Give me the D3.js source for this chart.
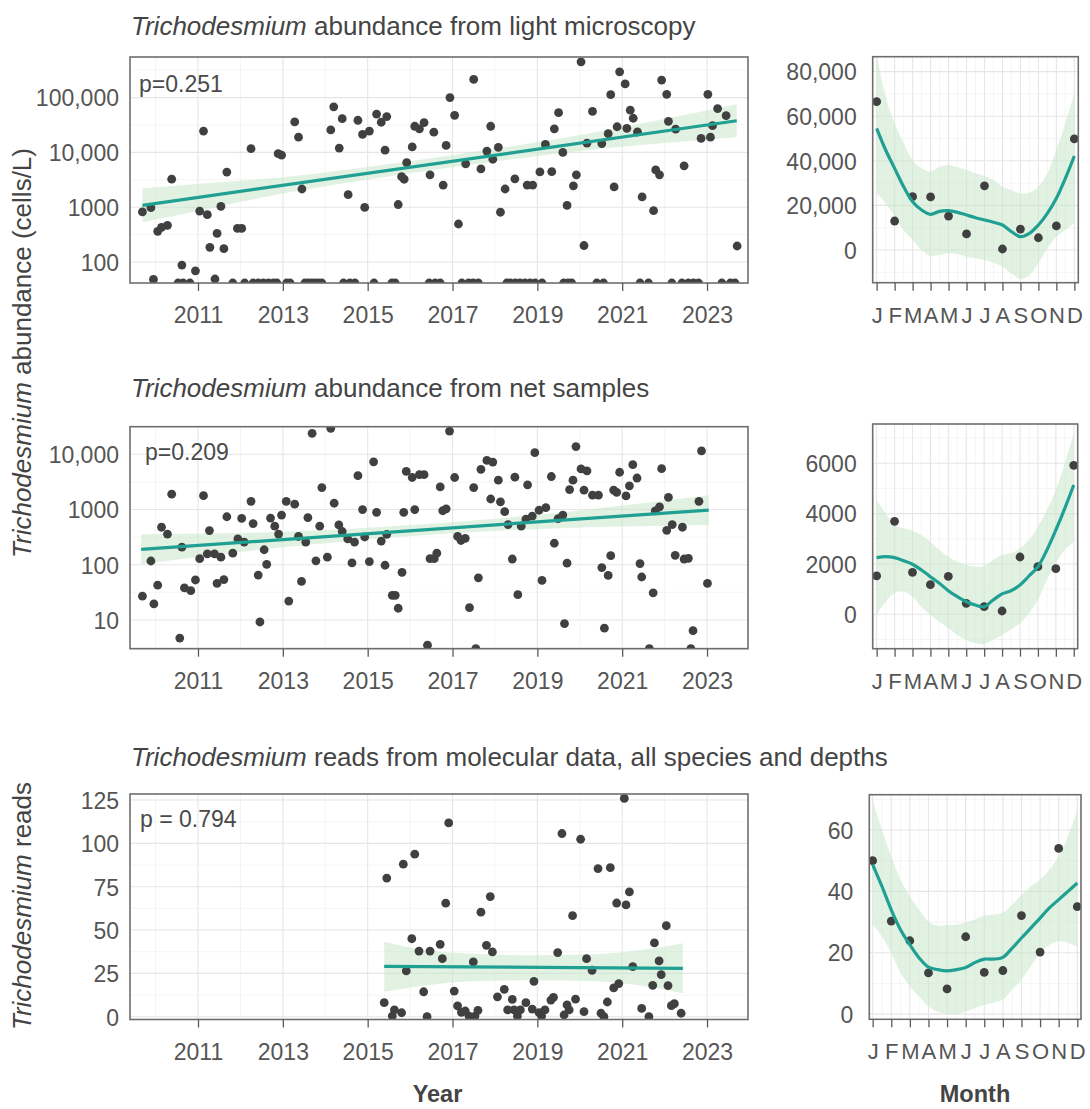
<!DOCTYPE html>
<html><head><meta charset="utf-8">
<script src="https://cdn.jsdelivr.net/npm/d3@7"></script>
<style>body{margin:0;background:#fff}svg{display:block}</style>
</head><body><svg id="c" width="1090" height="1109"></svg>
<script>
// ---------------- DATA ----------------
// Light microscopy abundance (cells/L) by decimal year; 0 = below detection (drawn on axis floor)
const lmPoints = [
[2009.69,820],[2009.89,980],[2009.95,48],[2010.05,363],[2010.14,430],[2010.28,468],[2010.38,3250],[2010.62,88],[2010.53,0],[2010.65,0],[2010.81,0],[2010.94,69],
[2011.13,24500],[2011.04,850],[2011.22,730],[2011.28,185],[2011.40,49],[2011.45,333],[2011.54,1040],[2011.61,175],[2011.68,4370],[2011.82,0],[2011.93,410],[2012.03,410],
[2012.10,0],[2012.25,11700],[2012.30,0],[2012.42,0],[2012.54,0],[2012.66,0],[2012.78,0],[2012.86,0],[2012.89,9500],[2012.97,8900],[2013.09,0],[2013.17,0],
[2013.28,36000],[2013.37,19000],[2013.45,2150],[2013.52,0],[2013.60,0],[2013.68,0],[2013.76,0],[2013.84,0],[2013.92,0],[2014.13,25700],[2014.20,68000],[2014.33,12000],
[2014.40,41200],[2014.54,1690],[2014.43,0],[2014.58,0],[2014.70,0],[2014.77,38600],[2014.88,21300],[2014.93,990],[2015.04,24500],[2015.15,0],[2015.21,50000],[2015.32,35500],
[2015.45,45000],[2015.41,11000],[2015.57,0],[2015.65,0],[2015.72,1120],[2015.80,3600],[2015.86,3240],[2015.92,6500],[2016.05,12600],[2016.11,30000],[2016.22,27000],[2016.33,35000],
[2016.47,3900],[2016.56,23400],[2016.45,0],[2016.59,0],[2016.71,0],
[2016.78,2530],[2016.85,13400],[2016.94,100000],[2017.05,47500],[2017.14,494],[2017.31,6200],[2017.50,215000],[2017.67,5000],[2017.81,10600],[2017.90,30000],[2017.95,7500],
[2018.08,12400],[2018.13,810],[2018.24,2150],[2018.47,3300],[2018.76,2530],[2018.89,2530],[2019.06,4400],[2019.19,14000],[2019.34,4450],[2019.40,27000],[2019.50,53000],
[2019.60,10000],[2019.70,1080],[2019.85,2460],[2019.92,3900],[2020.03,450000],[2020.10,200],[2020.17,14800],[2020.30,56000],[2020.52,14500],[2020.67,22000],[2020.73,113000],
[2020.81,2350],[2020.88,29400],[2020.94,296000],[2021.07,178000],[2021.11,27500],[2021.19,59000],[2021.26,42000],[2021.36,23600],[2021.47,1540],[2021.74,865],[2021.79,4800],
[2021.88,3900],[2021.93,209000],[2022.05,115000],[2022.09,37000],[2022.26,26600],[2022.46,5700],[2022.86,18000],[2023.08,19000],[2023.02,115000],[2023.13,30700],[2023.25,63000],
[2023.45,47000],[2023.71,196],
[2017.22,0],[2017.38,0],[2017.49,0],[2017.61,0],[2018.28,0],[2018.36,0],[2018.48,0],[2018.59,0],[2018.71,0],[2018.83,0],[2018.95,0],[2019.11,0],[2019.62,0],[2019.73,0],
[2019.81,0],[2020.40,0],[2020.56,0],[2021.42,0],[2021.62,0],[2022.17,0],[2022.41,0],[2022.56,0],[2022.68,0],[2022.80,0],[2023.35,0],[2023.55,0],[2023.66,0]
];
const lmTrend = [[2009.69,1084],[2023.70,37800]];
// [year, lower, upper]
const lmBand = [[2009.69,531,2213],[2011.5,1033,2844],[2013.0,1774,3540],[2014.5,2786,4842],[2016.7,4977,8260],[2018.5,7674,13335],[2020.5,11614,24266],[2022.0,14791,40738],[2023.7,18967,75509]];
const lmP = "p=0.251";
const lmTicks = [100,1000,10000,100000];
const lmTickLabels = ["100","1000","10,000","100,000"];

// Net samples abundance
const netPoints = [
[2009.69,27],[2009.89,117],[2009.96,19.5],[2010.05,42.6],[2010.14,478],[2010.28,360],[2010.38,1900],[2010.57,4.7],[2010.62,208],[2010.68,38],[2010.83,34],[2010.94,53],
[2011.04,129],[2011.13,1780],[2011.22,158],[2011.39,158],[2011.54,137],[2011.27,415],[2011.45,46],[2011.61,54],[2011.68,740],[2011.82,162],[2011.94,294],[2012.09,257],
[2012.03,690],[2012.25,1410],[2012.30,556],[2012.42,65],[2012.46,9.2],[2012.56,187],[2012.62,102],[2012.71,700],[2012.81,500],[2012.90,360],[2012.97,795],[2013.08,1410],
[2013.14,22],[2013.28,1250],[2013.37,325],[2013.44,50],[2013.54,257],[2013.59,715],[2013.69,24000],[2013.78,118],[2013.87,500],[2013.92,2500],[2014.05,137],[2014.13,29500],
[2014.21,1300],[2014.32,525],[2014.40,400],[2014.53,294],[2014.69,257],[2014.63,108],[2014.77,4100],[2014.88,1000],[2014.93,318],[2015.04,114],[2015.14,7300],[2015.21,890],
[2015.32,268],[2015.45,355],[2015.41,98],[2015.58,28],[2015.65,28],[2015.72,16.3],[2015.81,73],[2015.85,890],[2015.91,4900],[2016.05,3800],[2016.22,4270],[2016.33,4270],
[2016.11,1000],[2016.41,3.5],[2016.47,129],[2016.57,129],[2016.63,162],[2016.71,2570],[2016.77,950],[2016.85,1030],[2016.93,26300],[2017.05,3800],[2017.12,325],[2017.20,275],
[2017.30,300],[2017.40,16.7],[2017.50,2500],[2017.55,3],[2017.61,58],[2017.67,5350],[2017.81,7750],[2017.95,7240],[2017.90,1550],[2018.08,3400],[2018.13,1380],[2018.23,915],
[2018.31,535],[2018.41,127],[2018.47,3850],[2018.54,28.7],[2018.62,500],[2018.73,670],[2018.88,760],[2018.77,2800],[2018.94,10700],[2019.04,970],[2019.20,1080],[2019.11,52],
[2019.33,3960],[2019.40,245],[2019.49,685],[2019.60,795],[2019.64,8.6],[2019.70,107],[2019.76,2300],[2019.84,3400],[2019.91,13800],[2020.03,5430],[2020.17,5000],[2020.10,2240],
[2020.30,1820],[2020.44,1820],[2020.52,89],[2020.58,7.1],[2020.67,64],[2020.73,146],[2020.80,2240],[2020.87,2040],[2020.94,4730],[2021.09,1760],[2021.17,2690],[2021.25,6500],
[2021.35,3720],[2021.42,105],[2021.46,60],[2021.64,3],[2021.73,31],[2021.78,944],[2021.88,1120],[2021.93,5500],[2022.05,420],[2022.09,1660],[2022.18,535],[2022.25,148],
[2022.42,478],[2022.46,127],[2022.56,131],[2022.62,3],[2022.67,6.4],[2022.81,1410],[2022.87,11500],[2023.01,46]
];
const netTrend = [[2009.66,190],[2023.04,977]];
const netBand = [[2009.66,102,355],[2011.5,154,370],[2013.0,207,395],[2014.5,267,444],[2016.3,341,541],[2018.0,410,681],[2019.5,460,877],[2021.0,492,1180],[2023.04,525,1820]];
const netP = "p=0.209";
const netTicks = [10,100,1000,10000];
const netTickLabels = ["10","100","1000","10,000"];

// Molecular reads
const molPoints = [
[2015.39,8.1],[2015.45,80],[2015.58,0.4],[2015.63,3.9],[2015.80,2.3],[2015.84,88],[2015.91,26.4],[2016.04,45],[2016.11,93.8],[2016.21,37.9],[2016.47,37.9],[2016.32,14.4],
[2016.40,0],[2016.71,41.8],[2016.76,33.5],[2016.84,65.5],[2016.91,111.8],[2017.04,14.8],[2017.12,6.2],[2017.21,2.5],[2017.30,3.3],[2017.39,0.4],[2017.53,0.4],[2017.49,31.6],
[2017.60,3.7],[2017.67,60.3],[2017.80,41.2],[2017.89,69.3],[2017.94,37.4],[2018.06,11.5],[2018.22,15.8],[2018.30,3.9],[2018.41,10],[2018.45,3.9],[2018.53,0.4],[2018.60,3.9],
[2018.73,8.1],[2018.88,4.4],[2018.92,20.4],[2019.04,2.3],[2019.10,0.4],[2019.18,3.9],[2019.32,9.6],[2019.38,11.2],[2019.48,37],[2019.58,105.7],[2019.63,1],[2019.70,6.8],
[2019.75,3.9],[2019.83,58.3],[2019.90,10.2],[2020.02,102.4],[2020.10,2.9],[2020.16,33.5],[2020.29,26.8],[2020.43,85.5],[2020.50,2],[2020.57,0],[2020.65,8.5],[2020.72,86],
[2020.80,16.6],[2020.92,19.1],[2020.87,65.6],[2021.05,126],[2021.09,64.5],[2021.17,72],[2021.25,28.9],[2021.46,4.8],[2021.63,0],[2021.72,18.1],[2021.76,42.6],[2021.87,32.2],
[2021.92,24.3],[2022.04,52.5],[2022.08,17.9],[2022.16,6.4],[2022.23,7.5],[2022.39,2]
];
const molTrend = [[2015.39,29.1],[2022.43,27.9]];
const molBand = [[2015.39,14.4,43.3],[2016.5,18.5,38.0],[2017.5,20.5,36.3],[2018.9,21.0,35.5],[2020.3,20.5,36.0],[2021.3,18.5,38.0],[2022.43,13.5,42.4]];
const molP = "p = 0.794";
const molTicks = [0,25,50,75,100,125];

const yearTicks = [2011,2013,2015,2017,2019,2021,2023];
const yearMinor = [2010,2012,2014,2016,2018,2020,2022];

// Monthly panels
const monthLabels = ["J","F","M","A","M","J","J","A","S","O","N","D"];
const months = [1,2,3,4,5,6,7,8,9,10,11,12];
const halfMonths = [1.5,2.5,3.5,4.5,5.5,6.5,7.5,8.5,9.5,10.5,11.5];
const smoothX = [1,1.5,2,2.5,3,3.5,4,4.5,5,5.5,6,6.5,7,7.5,8,8.5,9,9.5,10,10.5,11,11.5,12];

const lmMonthly = [66500,13000,23900,23800,15200,7200,28800,450,9400,5500,10800,49800];
const lmSmooth = [54560,44840,36620,28400,21670,17940,16000,17340,17640,16890,15690,14500,13450,12410,11210,8220,5980,7470,11210,16440,23170,32130,42150];
const lmSmoothLo = [25410,20920,14950,8970,4480,0,-2690,-2240,-1490,-1790,-2990,-3740,-4480,-5680,-7470,-10460,-13150,-11210,-5980,750,5980,8970,11960];
const lmSmoothHi = [88200,68750,56800,47830,40360,36620,35130,37370,38110,37070,35870,34380,33180,31390,28400,26900,25410,25710,28400,34380,44840,56800,70250];
const lmMonthTicks = [0,20000,40000,60000,80000];
const lmMonthTickLabels = ["0","20,000","40,000","60,000","80,000"];
const lmMonthMinor = [-10000,10000,30000,50000,70000];

const netMonthly = [1523,3696,1669,1176,1510,437,302,131,2277,1892,1812,5921];
const netSmooth = [2250,2290,2250,2130,1987,1760,1495,1232,938,700,501,370,302,568,809,938,1165,1522,1892,2555,3350,4212,5138];
const netSmoothLo = [-28,501,835,898,700,302,-28,-294,-556,-823,-1021,-1152,-1180,-1021,-823,-596,-358,40,568,1363,2027,2555,2885];
const netSmoothHi = [4542,4013,3549,3418,3322,3151,2885,2555,2289,2090,1959,1892,1919,2158,2357,2424,2623,2953,3481,4145,4940,6001,7193];
const netMonthTicks = [0,2000,4000,6000];
const netMonthMinor = [-1000,1000,3000,5000,7000];

const molMonthly = [50.0,30.3,23.9,13.4,8.2,25.2,13.6,14.2,32.1,20.2,54.0,35.0];
const molSmooth = [48.7,41.6,34.0,27.5,22.6,18.3,15.3,14.5,14.1,14.5,15.2,16.8,17.9,17.9,18.5,21.5,24.8,28.0,31.3,34.6,37.3,40.0,42.7];
const molSmoothLo = [29.1,25.3,19.9,13.4,9.0,5.7,2.5,0.8,0.1,0.1,0.8,2.0,3.0,3.8,4.7,7.9,11.2,15.5,19.9,22.6,23.7,23.2,22.0];
const molSmoothHi = [69.9,60.1,51.4,43.8,38.4,34.0,30.2,28.8,29.1,29.1,29.9,30.8,32.1,32.4,33.1,35.6,38.9,41.6,43.8,47.1,51.4,57.9,66.6];
const molMonthTicks = [0,20,40,60];
const molMonthMinor = [10,30,50,70];

// ---------------- DRAWING ----------------
const FONT = '"Liberation Sans", Arial, Helvetica, sans-serif';
const svg = d3.select('#c').attr('font-family', FONT);
const TEAL = '#1fa092', BAND = '#cbe8cb', DOT = '#404040', TICKTXT = '#555';
let clipN = 0;

function panel(o) {
  const g = svg.append('g');
  const id = 'clip' + (++clipN);
  svg.append('clipPath').attr('id', id).append('rect')
    .attr('x', o.x0).attr('y', o.y0).attr('width', o.x1 - o.x0).attr('height', o.y1 - o.y0);
  const grid = g.append('g');
  const vline = (v, w, c) => grid.append('line').attr('x1', o.x(v)).attr('x2', o.x(v)).attr('y1', o.y0).attr('y2', o.y1).attr('stroke', c).attr('stroke-width', w);
  const hline = (y, w, c) => grid.append('line').attr('x1', o.x0).attr('x2', o.x1).attr('y1', y).attr('y2', y).attr('stroke', c).attr('stroke-width', w);
  o.xMinor.forEach(v => vline(v, 0.7, '#f0f0f0'));
  o.yMinor.forEach(v => { const y = o.y(v); if (y >= o.y0 && y <= o.y1) hline(y, 0.7, '#f0f0f0'); });
  o.xTicks.forEach(v => vline(v, 1.1, '#e6e6e6'));
  o.yTicks.forEach(v => hline(o.y(v), 1.1, '#e6e6e6'));
  const content = g.append('g').attr('clip-path', `url(#${id})`);
  const frame = g.append('g');
  frame.append('rect').attr('x', o.x0).attr('y', o.y0).attr('width', o.x1 - o.x0).attr('height', o.y1 - o.y0)
    .attr('fill', 'none').attr('stroke', '#6e6e6e').attr('stroke-width', 1.6);
  const ax = frame.append('g').attr('transform', `translate(0,${o.y1})`)
    .call(d3.axisBottom(o.x).tickValues(o.xTicks).tickFormat(o.xFmt).tickSize(8));
  ax.select('.domain').remove();
  ax.selectAll('line').attr('stroke', '#5a5a5a').attr('stroke-width', 1.3);
  ax.selectAll('text').attr('font-family', FONT).attr('font-size', o.xFont || 23).attr('fill', TICKTXT).attr('y', 40).attr('dy', 0);
  const ay = frame.append('g').attr('transform', `translate(${o.x0},0)`)
    .call(d3.axisLeft(o.y).tickValues(o.yTicks).tickFormat(o.yFmt).tickSize(0).tickPadding(o.yPad));
  ay.select('.domain').remove();
  ay.selectAll('text').attr('font-family', FONT).attr('font-size', 23).attr('fill', TICKTXT).attr('dy', '0.36em');
  return content;
}

function title(x, y, it, rest, rot) {
  const t = svg.append('text').attr('font-size', 26).attr('fill', '#444').style('white-space', 'pre');
  if (rot) t.attr('transform', `translate(${x},${y}) rotate(-90)`).attr('text-anchor', 'middle');
  else t.attr('x', x).attr('y', y);
  t.append('tspan').attr('font-style', 'italic').text(it);
  t.append('tspan').text(rest);
}

const LX0 = 130, LX1 = 748;
const xYear = d3.scaleLinear().domain([2009.397, 2023.966]).range([LX0, LX1]);

function yearPanel(o, points, trend, band, pText, pX, pY) {
  const c = panel(Object.assign({ x0: LX0, x1: LX1, x: xYear, xTicks: yearTicks, xMinor: yearMinor, xFmt: d3.format('d'), yPad: 11 }, o));
  const floor = o.y.domain()[0];
  const Y = v => o.y(Math.max(v, floor));
  c.append('path').datum(band)
    .attr('d', d3.area().x(d => xYear(d[0])).y0(d => Y(d[1])).y1(d => Y(d[2])).curve(d3.curveMonotoneX))
    .attr('fill', BAND).attr('opacity', 0.55);
  c.selectAll('circle.pt').data(points).join('circle').attr('class', 'pt')
    .attr('cx', d => xYear(d[0])).attr('cy', d => Y(d[1])).attr('r', 4.4).attr('fill', DOT);
  c.append('path').datum(trend)
    .attr('d', d3.line().x(d => xYear(d[0])).y(d => Y(d[1])))
    .attr('fill', 'none').attr('stroke', TEAL).attr('stroke-width', 3.2);
  svg.append('text').attr('x', pX).attr('y', pY).attr('font-size', 23).attr('fill', '#4a4a4a').style('white-space', 'pre').text(pText);
}

function monthPanel(o, vals, sm, lo, hi) {
  const x = d3.scaleLinear().domain(o.xd).range([o.x0, o.x1]);
  const c = panel(Object.assign({ x, xTicks: months, xMinor: halfMonths, xFmt: (d, i) => monthLabels[i], xFont: 22, yPad: 16 }, o));
  const bandData = smoothX.map((m, i) => [m, lo[i], hi[i]]);
  c.append('path').datum(bandData)
    .attr('d', d3.area().x(d => x(d[0])).y0(d => o.y(d[1])).y1(d => o.y(d[2])).curve(d3.curveCatmullRom))
    .attr('fill', BAND).attr('opacity', 0.55);
  c.selectAll('circle.pt').data(vals).join('circle').attr('class', 'pt')
    .attr('cx', (d, i) => x(months[i])).attr('cy', d => o.y(d)).attr('r', 4.4).attr('fill', DOT);
  c.append('path').datum(smoothX.map((m, i) => [m, sm[i]]))
    .attr('d', d3.line().x(d => x(d[0])).y(d => o.y(d[1])).curve(d3.curveCatmullRom))
    .attr('fill', 'none').attr('stroke', TEAL).attr('stroke-width', 3.2);
}

// Row 1
const yLm = d3.scaleLog().domain([41.4, 551000]).range([283, 57]);
yearPanel({ y0: 57, y1: 283, y: yLm, yTicks: lmTicks, yMinor: [316.2, 3162, 31623, 316228], yFmt: (d, i) => lmTickLabels[i] }, lmPoints, lmTrend, lmBand, lmP, 139, 92);
monthPanel({ x0: 872.7, x1: 1078.3, y0: 56.7, y1: 282.7, xd: [0.78, 12.22], y: d3.scaleLinear().domain([-14660, 86680]).range([282.7, 56.7]),
  yTicks: lmMonthTicks, yMinor: lmMonthMinor, yFmt: (d, i) => lmMonthTickLabels[i] }, lmMonthly, lmSmooth, lmSmoothLo, lmSmoothHi);

// Row 2
const yNet = d3.scaleLog().domain([3.02, 31600]).range([648.7, 426.7]);
yearPanel({ y0: 426.7, y1: 648.7, y: yNet, yTicks: netTicks, yMinor: [3.162, 31.62, 316.2, 3162, 31623], yFmt: (d, i) => netTickLabels[i] }, netPoints, netTrend, netBand, netP, 145, 460);
monthPanel({ x0: 872.7, x1: 1077.7, y0: 424, y1: 648.7, xd: [0.78, 12.22], y: d3.scaleLinear().domain([-1367, 7562]).range([648.7, 424]),
  yTicks: netMonthTicks, yMinor: netMonthMinor, yFmt: d3.format('d') }, netMonthly, netSmooth, netSmoothLo, netSmoothHi);

// Row 3
const yMol = d3.scaleLinear().domain([-1.6, 128.5]).range([1019.5, 794]);
yearPanel({ y0: 794, y1: 1019.5, y: yMol, yTicks: molTicks, yMinor: [12.5, 37.5, 62.5, 87.5, 112.5], yFmt: d3.format('d') }, molPoints, molTrend, molBand, molP, 140, 827);
monthPanel({ x0: 869.3, x1: 1081, y0: 794.7, y1: 1019.3, xd: [0.82, 12.2], y: d3.scaleLinear().domain([-1.7, 71.5]).range([1019.3, 794.7]),
  yTicks: molMonthTicks, yMinor: molMonthMinor, yFmt: d3.format('d') }, molMonthly, molSmooth, molSmoothLo, molSmoothHi);

// Titles & axis labels
title(131, 35, 'Trichodesmium', ' abundance from light microscopy');
title(131, 397, 'Trichodesmium', ' abundance from net samples');
title(131, 766, 'Trichodesmium', ' reads from molecular data, all species and depths');
title(31, 353, 'Trichodesmium', ' abundance (cells/L)', true);
title(31, 906, 'Trichodesmium', ' reads', true);
svg.append('text').attr('x', 437.5).attr('y', 1102).attr('text-anchor', 'middle').attr('font-size', 23.5).attr('font-weight', 'bold').attr('fill', '#444').text('Year');
svg.append('text').attr('x', 975).attr('y', 1102).attr('text-anchor', 'middle').attr('font-size', 23.5).attr('font-weight', 'bold').attr('fill', '#444').text('Month');
</script>
</body></html>
